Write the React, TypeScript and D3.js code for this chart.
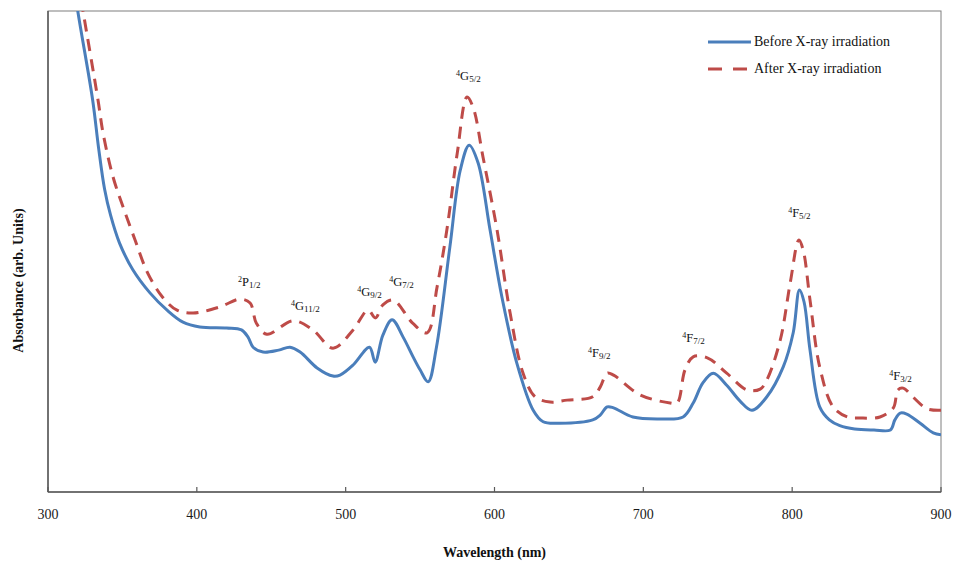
import React from "react";
import * as d3 from "d3";

// ---- Data (absorbance in arbitrary units) ----
const wavelengthBefore = [
  316, 320, 330, 334, 338, 342, 348, 357, 368.5, 380, 390.7, 402, 420, 430, 434.4, 437.8,
  444.5, 455, 462.6, 469.4, 480.8, 491.5, 496.2, 505, 516, 519.8, 525, 531.2, 538.6, 545.3,
  550, 555.4, 561, 570, 577, 583, 589, 597, 605, 615, 626, 632.7, 644, 666, 671, 675.7, 680,
  693, 711, 726.7, 733.5, 740, 747, 756, 765, 773, 783, 794, 800.7, 804.9, 808, 812, 818.5,
  825, 832, 842, 855, 866, 869, 872.6, 877, 886, 894.8, 900,
];
const absorbanceBefore = [
  10.85, 10.0, 8.15, 7.15, 6.3, 5.76, 5.18, 4.62, 4.14, 3.78, 3.53, 3.43, 3.41, 3.37, 3.22, 3.01,
  2.91, 2.95, 3.01, 2.91, 2.58, 2.41, 2.43, 2.64, 3.01, 2.7, 3.26, 3.58, 3.22, 2.81,
  2.54, 2.29, 3.01, 5.09, 6.69, 7.21, 6.84, 5.45, 4.05, 2.68, 1.7, 1.46, 1.43, 1.5, 1.6, 1.77, 1.75,
  1.56, 1.52, 1.56, 1.85, 2.27, 2.47, 2.22, 1.89, 1.7, 1.98, 2.6, 3.31, 4.2, 3.95, 2.95, 1.77,
  1.5, 1.38, 1.31, 1.29, 1.29, 1.5, 1.64, 1.62, 1.43, 1.23, 1.19,
];

const wavelengthAfter = [
  320, 323.5, 333.6, 337, 343.7, 350.4, 358.5, 367, 377, 386.7, 397.5, 415.6, 429, 435.8, 440,
  447, 464.7, 478, 491.5, 505, 515, 520, 525, 532, 545, 554.7, 561.4, 568, 575, 581.5, 585.6,
  592.3, 601.7, 610.5, 619.2, 627.3, 637.4, 648.8, 666, 671, 675.7, 680, 697.8, 718, 722.7, 728,
  733.5, 743, 756, 769.8, 778.5, 783, 792, 798.7, 804.5, 807.4, 812, 818.5, 827.5, 837, 845, 859,
  868, 871, 874.6, 881, 890.7, 900,
];
const absorbanceAfter = [
  10.64, 10.0, 8.15, 7.46, 6.55, 5.93, 5.24, 4.55, 4.05, 3.78, 3.72, 3.85, 4.01, 3.93, 3.51,
  3.28, 3.56, 3.37, 2.99, 3.37, 3.78, 3.62, 3.89, 3.99, 3.51, 3.31, 4.26, 5.45, 7.05, 8.21, 8.0,
  6.96, 5.45, 3.72, 2.47, 1.98, 1.87, 1.91, 1.98, 2.18, 2.47, 2.43, 2.02, 1.85, 1.85, 2.54,
  2.81, 2.79, 2.47, 2.12, 2.14, 2.33, 3.16, 4.35, 5.24, 5.03, 3.99, 2.6, 1.77, 1.56, 1.54, 1.56,
  1.75, 2.12, 2.16, 1.98, 1.73, 1.7,
];

const xTicks = [300, 400, 500, 600, 700, 800, 900];
const seriesNames = ["Before X-ray irradiation", "After X-ray irradiation"];

// Peak labels: term symbols
const peakSup = ["2", "4", "4", "4", "4", "4", "4", "4", "4"];
const peakLetter = ["P", "G", "G", "G", "G", "F", "F", "F", "F"];
const peakSub = ["1/2", "11/2", "9/2", "7/2", "5/2", "9/2", "7/2", "5/2", "3/2"];
const peakLabelWavelength = [427.7, 463.3, 507.7, 529.2, 574.2, 662.9, 726.1, 797.3, 865.2];
const peakLabelLevel = [4.28, 3.78, 4.07, 4.28, 8.57, 2.81, 3.12, 5.72, 2.33];

const W = 953;
const H = 566;
const M = { left: 48, right: 12, top: 11, bottom: 74 };

export default function App() {
  const x = d3.scaleLinear().domain([300, 900]).range([M.left, W - M.right]);
  const y = d3.scaleLinear().domain([0, 10]).range([H - M.bottom, M.top]);

  const line = d3
    .line<[number, number]>()
    .x((d) => x(d[0]))
    .y((d) => y(d[1]))
    .curve(d3.curveCatmullRom.alpha(0.5));

  const before = wavelengthBefore.map((w, i) => [w, absorbanceBefore[i]] as [number, number]);
  const after = wavelengthAfter.map((w, i) => [w, absorbanceAfter[i]] as [number, number]);

  const blue = "#4A7EBB";
  const red = "#BE4B48";
  const serif = "'Liberation Serif', 'DejaVu Serif', serif";
  const x0 = M.left;
  const x1 = W - M.right;
  const y0 = H - M.bottom;
  const y1 = M.top;

  return (
    <svg
      width={W}
      height={H}
      viewBox={`0 0 ${W} ${H}`}
      style={{ position: "absolute", left: 0, top: 0, background: "#fff" }}
      xmlns="http://www.w3.org/2000/svg"
    >
      <defs>
        <clipPath id="plotClip">
          <rect x={x0} y={y1} width={x1 - x0} height={y0 - y1} />
        </clipPath>
      </defs>
      <rect x={0} y={0} width={W} height={H} fill="#fff" />

      {/* plot frame */}
      <rect x={x0} y={y1} width={x1 - x0} height={y0 - y1} fill="none" stroke="#7f7f7f" strokeWidth={1} />
      <line x1={x0} x2={x0} y1={y1} y2={y0} stroke="#595959" strokeWidth={1.5} />
      <line x1={x0} x2={x1} y1={y0} y2={y0} stroke="#595959" strokeWidth={1.5} />

      {/* x ticks */}
      {xTicks.map((t) => (
        <g key={t}>
          <line x1={x(t)} x2={x(t)} y1={y0} y2={y0 - 5} stroke="#595959" strokeWidth={1.2} />
          <text x={x(t)} y={519} textAnchor="middle" fontFamily={serif} fontSize={14} fill="#1a1a1a">
            {t}
          </text>
        </g>
      ))}

      {/* series */}
      <g clipPath="url(#plotClip)">
        <path d={line(after) || ""} fill="none" stroke={red} strokeWidth={3} strokeDasharray="12,8" />
        <path d={line(before) || ""} fill="none" stroke={blue} strokeWidth={3} />
      </g>

      {/* peak labels */}
      {peakLetter.map((L, i) => (
        <text
          key={i}
          x={x(peakLabelWavelength[i])}
          y={y(peakLabelLevel[i])}
          fontFamily={serif}
          fontSize={12}
          fill="#111"
        >
          <tspan fontSize={8} dy={-4}>
            {peakSup[i]}
          </tspan>
          <tspan fontSize={12.5} dy={4}>
            {L}
          </tspan>
          <tspan fontSize={9} dy={2}>
            {peakSub[i]}
          </tspan>
        </text>
      ))}

      {/* legend */}
      <line x1={708} x2={751} y1={42} y2={42} stroke={blue} strokeWidth={3} />
      <text x={754} y={46} fontFamily={serif} fontSize={14} fill="#111">
        {seriesNames[0]}
      </text>
      <line x1={708} x2={751} y1={69} y2={69} stroke={red} strokeWidth={3} strokeDasharray="14,11" />
      <text x={754} y={73} fontFamily={serif} fontSize={14} fill="#111">
        {seriesNames[1]}
      </text>

      {/* axis titles */}
      <text x={(x0 + x1) / 2} y={557} textAnchor="middle" fontFamily={serif} fontWeight="bold" fontSize={14} fill="#111">
        Wavelength (nm)
      </text>
      <text
        transform={`translate(23, ${(y0 + y1) / 2 + 29}) rotate(-90)`}
        textAnchor="middle"
        fontFamily={serif}
        fontWeight="bold"
        fontSize={14}
        fill="#111"
      >
        Absorbance (arb. Units)
      </text>
    </svg>
  );
}
